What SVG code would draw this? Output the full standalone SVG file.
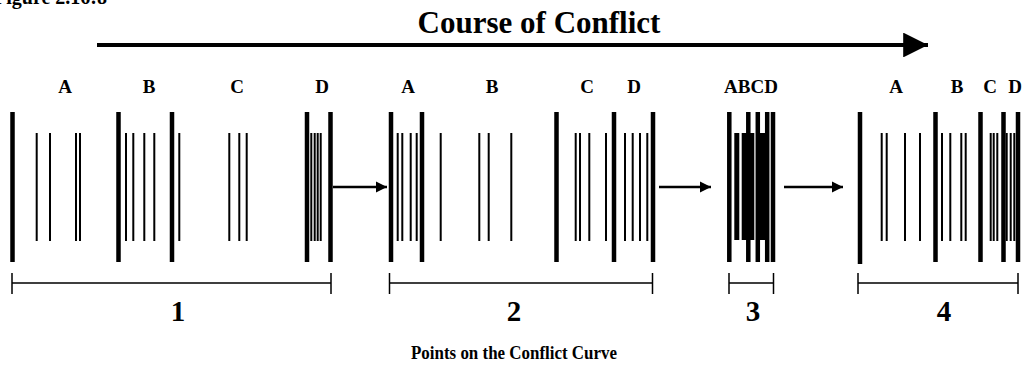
<svg xmlns="http://www.w3.org/2000/svg" width="1026" height="367" viewBox="0 0 1026 367">
<style>
text{font-family:"Liberation Serif","Times New Roman",serif;font-weight:bold;fill:#000;text-anchor:middle}
.lbl{font-size:19px}
.num{font-size:29px}
.thick{stroke:#000;stroke-width:4.5;fill:none}
.thin{stroke:#000;stroke-width:2;fill:none}
.br{stroke:#000;stroke-width:1.5;fill:none}
</style>
<defs>
<marker id="ah" viewBox="0 0 10 10" refX="10" refY="5" markerWidth="4.4" markerHeight="4.4" orient="auto" markerUnits="strokeWidth"><path d="M0,0 L10,5 L0,10 Z" fill="#000"/></marker>
<marker id="ahbig" viewBox="0 0 10 10" refX="10" refY="5" markerWidth="7" markerHeight="6.2" orient="auto" markerUnits="strokeWidth"><path d="M0,0 L10,5 L0,10 Z" fill="#000"/></marker>
</defs>
<rect width="1026" height="367" fill="#fff"/>
<text x="-6" y="4" style="font-size:20px;text-anchor:start">Figure 2.16:8</text>
<text x="539" y="33" style="font-size:31px">Course of Conflict</text>
<g id="connectors">
<line x1="97" y1="45" x2="928" y2="45" stroke="#000" stroke-width="4" marker-end="url(#ahbig)"/>
<line x1="333" y1="187" x2="387" y2="187" stroke="#000" stroke-width="2.6" marker-end="url(#ah)"/>
<line x1="659" y1="187" x2="711" y2="187" stroke="#000" stroke-width="2.6" marker-end="url(#ah)"/>
<line x1="784" y1="187" x2="843" y2="187" stroke="#000" stroke-width="2.6" marker-end="url(#ah)"/>
</g>
<g id="stage1">
<text class="lbl" x="65" y="93">A</text><text class="lbl" x="149" y="93">B</text><text class="lbl" x="237" y="93">C</text><text class="lbl" x="322" y="93">D</text>
<path class="thick" d="M12.5,112V262M118.5,112V262M172,112V262M307,112V262M330.5,112V262"/>
<path class="thin" d="M36.7,133V241M50,133V241M76,133V241M80,133V241M126,133V241M133.3,133V241M144.3,133V241M154.3,133V241M179.3,133V241M229.3,133V241M239.3,133V241M246.7,133V241M311.3,133V241M314.7,133V241M317.7,133V241M320.7,133V241"/>
</g>
<g id="stage2">
<text class="lbl" x="408" y="93">A</text><text class="lbl" x="492" y="93">B</text><text class="lbl" x="587" y="93">C</text><text class="lbl" x="634" y="93">D</text>
<path class="thick" d="M391,112V262M422,112V262M556.5,112V262M614,112V262M653,112V262"/>
<path class="thin" d="M397.7,133V241M402.3,133V241M410.7,133V241M416.7,133V241M440.7,133V241M479.3,133V241M488.7,133V241M511.3,133V241M575.7,133V241M580,133V241M589.3,133V241M606,133V241M625,133V241M632.7,133V241M640,133V241M647.3,133V241"/>
</g>
<g id="stage3">
<text class="lbl" x="751" y="93">ABCD</text>
<path class="thick" d="M729.3,112V262M748.3,112V262M757.8,112V262M767.2,112V262M773,112V262"/>
<rect x="734.3" y="133" width="5" height="107" fill="#000"/>
<rect x="741.7" y="133" width="12.6" height="107" fill="#000"/>
<rect x="759" y="133" width="6" height="107" fill="#000"/>
</g>
<g id="stage4">
<text class="lbl" x="896" y="93">A</text><text class="lbl" x="957" y="93">B</text><text class="lbl" x="990" y="93">C</text><text class="lbl" x="1015" y="93">D</text>
<path class="thick" d="M860,112V264M935.5,112V262M980.5,112V262M1003.5,112V262M1018,112V262"/>
<path class="thin" d="M881.7,133V241M886.7,133V241M905,133V241M920,133V241M942,133V241M950.3,133V241M961.3,133V241M965.7,133V241M990.7,133V241M993.7,133V241M997.3,133V241M1006.7,133V241M1010.7,133V241M1014.3,133V241"/>
</g>
<g id="scale">
<path class="br" d="M12,283H331M12,273V294M331,273V294M389.5,283H652.5M389.5,273V294M652.5,273V294M729,283H773.5M729,273V294M773.5,273V294M858,283H1018M858,273V294M1018,273V294"/>
<text class="num" x="178" y="321">1</text>
<text class="num" x="514" y="321">2</text>
<text class="num" x="753" y="321">3</text>
<text class="num" x="944" y="321">4</text>
<text x="514" y="359" style="font-size:19px" textLength="206" lengthAdjust="spacingAndGlyphs">Points on the Conflict Curve</text>
</g>
</svg>
